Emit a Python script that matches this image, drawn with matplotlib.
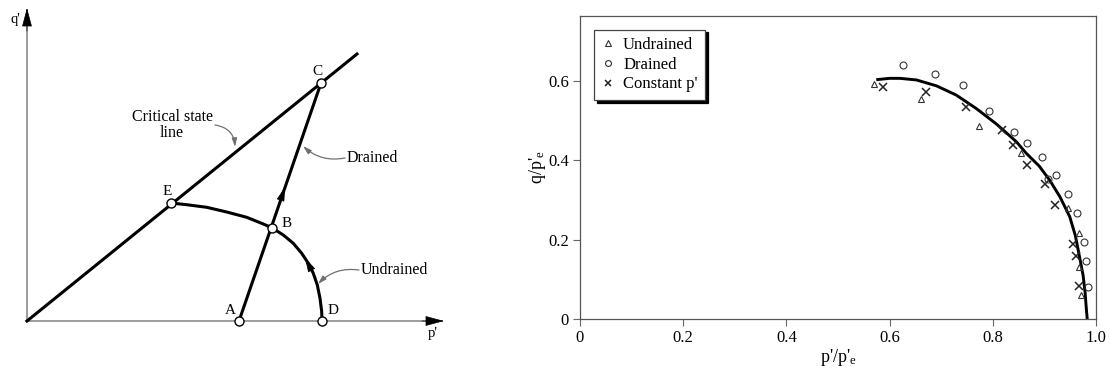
import matplotlib.pyplot as plt

# ---- right panel data: normalised stress paths ----
undrained_p = [0.569, 0.660, 0.773, 0.855, 0.945, 0.968, 0.968, 0.970]
undrained_q = [0.592, 0.554, 0.487, 0.418, 0.280, 0.216, 0.130, 0.060]

drained_p = [0.625, 0.688, 0.742, 0.793, 0.841, 0.866, 0.896, 0.907, 0.922,
             0.945, 0.964, 0.977, 0.981, 0.985]
drained_q = [0.639, 0.617, 0.588, 0.525, 0.472, 0.442, 0.407, 0.352, 0.362,
             0.314, 0.267, 0.195, 0.147, 0.081]

constp_p = [0.587, 0.670, 0.749, 0.818, 0.840, 0.867, 0.902, 0.921, 0.955,
            0.961, 0.968]
constp_q = [0.585, 0.572, 0.533, 0.475, 0.438, 0.389, 0.339, 0.288, 0.190,
            0.159, 0.084]

# fitted boundary curve
curve_p = [0.577, 0.600, 0.620, 0.652, 0.691, 0.729, 0.768, 0.807, 0.846,
           0.865, 0.890, 0.910, 0.930, 0.949, 0.960, 0.968, 0.975, 0.979,
           0.981, 0.983]
curve_q = [0.603, 0.606, 0.606, 0.602, 0.587, 0.564, 0.530, 0.491, 0.446,
           0.417, 0.385, 0.350, 0.308, 0.258, 0.210, 0.157, 0.110, 0.065,
           0.030, 0.0]

x_ticks = [0, 0.2, 0.4, 0.6, 0.8, 1.0]
x_tick_labels = ["0", "0.2", "0.4", "0.6", "0.8", "1.0"]
y_ticks = [0, 0.2, 0.4, 0.6]
y_tick_labels = ["0", "0.2", "0.4", "0.6"]

# ---- left panel: schematic points (p', q') in arbitrary units ----
points = {
    "O": (0, 0),
    "A": (212, 0),
    "D": (295, 0),
    "B": (244.7, 93.3),
    "C": (294, 238),
    "E": (144, 118),
}
csl_end = (330, 267)
undrained_path_p = [144, 159.7, 179.7, 199.7, 219.7, 236.3, 244.7, 256.3,
                    266.3, 274.7, 281.3, 286.3, 290.3, 293, 294.7, 295]
undrained_path_q = [118, 116.3, 113.7, 109, 103.7, 97, 93.3, 86, 77.7, 67.7,
                    57.7, 47.7, 36, 22.7, 9.3, 0]


def main():
    plt.rcParams["font.family"] = ["Liberation Serif", "DejaVu Serif"]
    plt.rcParams["mathtext.fontset"] = "custom"
    plt.rcParams["mathtext.rm"] = "Liberation Serif"
    plt.rcParams["mathtext.it"] = "Liberation Serif:italic"

    fig = plt.figure(figsize=(11.10, 3.74), dpi=100)

    # ---------------- left schematic ----------------
    ax = fig.add_axes([0, 0, 0.5, 1])
    ax.set_xlim(-27, 528)
    ax.set_ylim(-53, 321)
    ax.axis("off")

    axis_grey = "#8c8c8c"
    ax.plot([0, 415], [0, 0], color=axis_grey, lw=1.2, zorder=1)
    ax.plot([0, 0], [0, 311], color=axis_grey, lw=1.2, zorder=1)
    head = dict(arrowstyle="-|>,head_length=1.2,head_width=0.32",
                color="black", lw=0.5, shrinkA=0, shrinkB=0)
    ax.annotate("", xy=(417, 0), xytext=(395, 0), arrowprops=head)
    ax.annotate("", xy=(0, 313), xytext=(0, 290), arrowprops=head)
    ax.text(-12, 302, "q'", fontsize=10.5, ha="center", va="center")
    ax.text(406, -13, "p'", fontsize=10.5, ha="center", va="center")

    lw = 2.2
    # critical state line
    ax.plot([points["O"][0], csl_end[0]], [points["O"][1], csl_end[1]],
            color="black", lw=lw, zorder=2)
    # drained path A -> C
    ax.plot([points["A"][0], points["C"][0]], [points["A"][1], points["C"][1]],
            color="black", lw=lw, zorder=2)
    # undrained path D -> B -> E
    ax.plot(undrained_path_p, undrained_path_q, color="black", lw=lw,
            zorder=2, solid_joinstyle="round")

    # direction arrows on paths
    arrow = dict(arrowstyle="-|>,head_length=0.9,head_width=0.25",
                 color="black", lw=0.5, shrinkA=0, shrinkB=0)
    ax.annotate("", xy=(258, 134), xytext=(253, 119), arrowprops=arrow)
    ax.annotate("", xy=(278, 63), xytext=(285, 50), arrowprops=arrow)

    for name, (px, py) in points.items():
        if name == "O":
            continue
        ax.plot(px, py, "o", ms=6.5, mfc="white", mec="black", mew=1.0, zorder=4)

    label_offsets = {"A": (-9, 11), "D": (11, 11), "B": (15, 4),
                     "C": (-4, 12), "E": (-4, 12)}
    for name, (dx, dy) in label_offsets.items():
        px, py = points[name]
        ax.text(px + dx, py + dy, name, fontsize=11, ha="center", va="center")

    leader = dict(arrowstyle="-|>,head_length=0.5,head_width=0.15",
                  color="#707070", lw=0.9, shrinkA=0, shrinkB=0)
    ax.text(145, 196, "Critical state\nline", fontsize=11.5, ha="center",
            va="center", linespacing=1.05)
    ax.annotate("", xy=(208, 174), xytext=(188, 196), arrowprops=dict(
        leader, connectionstyle="arc3,rad=-0.4"))
    ax.text(320, 163, "Drained", fontsize=11.5, ha="left", va="center")
    ax.annotate("", xy=(276, 175), xytext=(318, 163), arrowprops=dict(
        leader, connectionstyle="arc3,rad=-0.25"))
    ax.text(334, 51, "Undrained", fontsize=11.5, ha="left", va="center")
    ax.annotate("", xy=(291, 37), xytext=(332, 51), arrowprops=dict(
        leader, connectionstyle="arc3,rad=0.25"))

    # ---------------- right data panel ----------------
    ax2 = fig.add_axes([580 / 1110, 1 - 319 / 374, 516 / 1110, 303 / 374])
    ax2.plot(curve_p, curve_q, color="black", lw=2.1, zorder=2,
             solid_joinstyle="round")
    ax2.plot(undrained_p, undrained_q, ls="none", marker="^", ms=4.4,
             mfc="none", mec="#333333", mew=0.8, label="Undrained", zorder=3)
    ax2.plot(drained_p, drained_q, ls="none", marker="o", ms=5.0,
             mfc="none", mec="#333333", mew=0.8, label="Drained", zorder=3)
    ax2.plot(constp_p, constp_q, ls="none", marker="x", ms=5.5,
             color="#222222", mew=1.1, label="Constant p'", zorder=3)

    ax2.set_xlim(0, 1.0)
    ax2.set_ylim(0, 0.763)
    ax2.set_xticks(x_ticks)
    ax2.set_xticklabels(x_tick_labels)
    ax2.set_yticks(y_ticks)
    ax2.set_yticklabels(y_tick_labels)
    ax2.tick_params(direction="out", length=5, width=0.8, color="#666666",
                    labelsize=12, pad=3)
    for spine in ax2.spines.values():
        spine.set_color("#555555")
        spine.set_linewidth(0.9)

    ax2.set_xlabel(r"p'/p'$_{\mathrm{e}}$", fontsize=13, labelpad=1)
    ax2.set_ylabel(r"q/p'$_{\mathrm{e}}$", fontsize=13, labelpad=0)

    leg = ax2.legend(loc="upper left", bbox_to_anchor=(0.027, 0.955),
                     fontsize=12, frameon=True, fancybox=False,
                     shadow={"color": "black", "alpha": 1.0},
                     handlelength=0.8, handletextpad=0.5, borderpad=0.45,
                     labelspacing=0.22, borderaxespad=0, markerscale=0.85)
    leg.get_frame().set_edgecolor("#444444")
    leg.get_frame().set_linewidth(0.9)
    leg.get_frame().set_alpha(1.0)

    fig.savefig("out.png", dpi=100)
    plt.close(fig)


if __name__ == "__main__":

    main()
